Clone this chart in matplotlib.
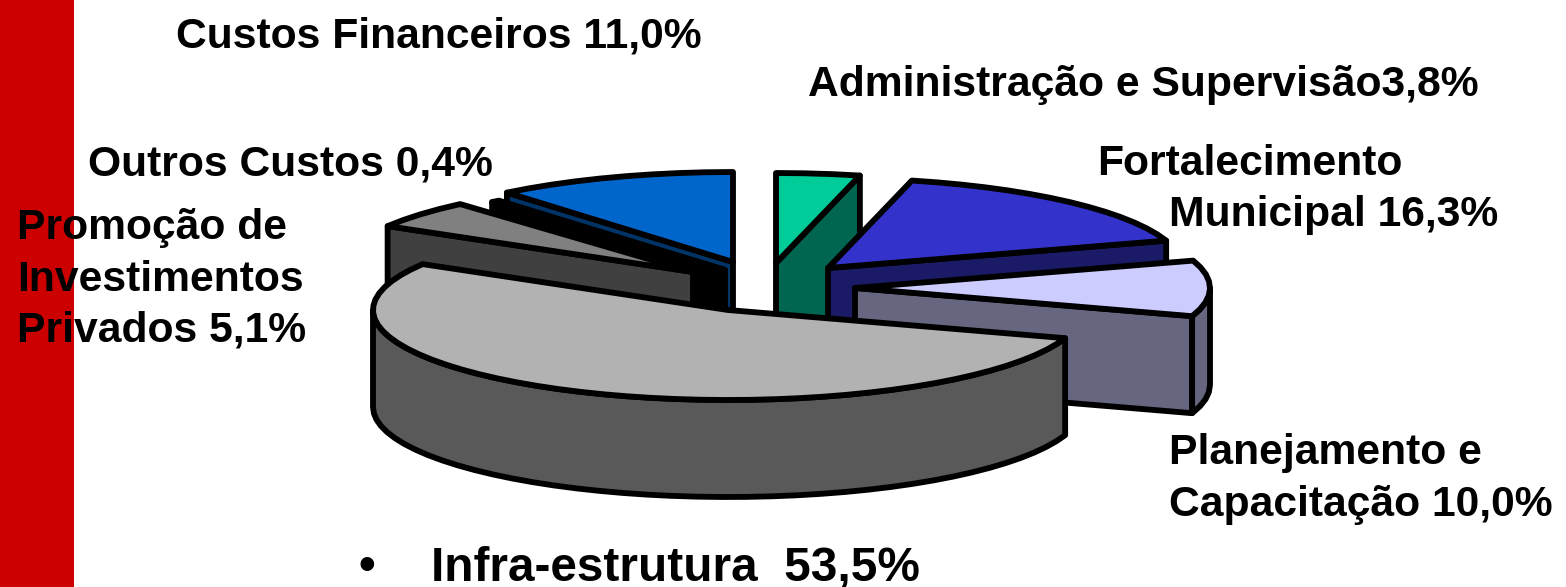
import numpy as np
import matplotlib
matplotlib.use("agg")
import matplotlib.pyplot as plt
from matplotlib.patches import Polygon, Rectangle

# share of each slice, clockwise from 12 o'clock
names = ["Administração", "Fortalecimento", "Planejamento", "Infra-estrutura",
         "Promoção", "Outros", "Custos"]
shares = [3.8, 16.3, 10.0, 53.5, 5.1, 0.4, 11.0]
top_colors = ["#00cc99", "#3333cc", "#ccccff", "#b2b2b2", "#808080", "#000000", "#0066cc"]
side_colors = ["#006650", "#1a1a66", "#666680", "#595959", "#404040", "#000000", "#003366"]

# where the tip of each exploded slice ends up, in picture pixels
tips = [(776, 263), (828, 268), (855, 288), (728, 310), (693, 272), (725, 270), (733, 262)]
# the green wall runs on behind the big slice
depths = [112., 97., 97., 97., 97., 97., 97.]
draw_order = [6, 5, 4, 0, 1, 2, 3]

rx = 355.
ry = 90.
lw = 4.2


def rim(tip, t):
    t = np.radians(t)
    return np.column_stack((tip[0] + rx * np.sin(t), tip[1] - ry * np.cos(t)))


def arc(start, end):
    # coarse steps, the original outline is not smooth either
    n = max(int((end - start) / 4.), 1)
    return np.linspace(start, end, n + 1)


def draw_slice(ax, i, start, end):
    tip = tips[i]
    drop = np.array([0, depths[i]])
    style = dict(facecolor=side_colors[i], edgecolor="k", linewidth=lw, joinstyle="round")
    # flat cut walls, only the ones turned towards the viewer
    if 180 < start < 360:
        p = np.vstack(([tip], rim(tip, np.array([start]))))
        ax.add_patch(Polygon(np.vstack((p, (p + drop)[::-1])), **style))
    if 0 < end < 180:
        p = np.vstack(([tip], rim(tip, np.array([end]))))
        ax.add_patch(Polygon(np.vstack((p, (p + drop)[::-1])), **style))
    # outer wall, front half only
    a, b = max(start, 90), min(end, 270)
    if a < b:
        p = rim(tip, arc(a, b))
        ax.add_patch(Polygon(np.vstack((p, (p + drop)[::-1])), **style))
    p = np.vstack(([tip], rim(tip, arc(start, end))))
    ax.add_patch(Polygon(p, facecolor=top_colors[i], edgecolor="k", linewidth=lw, joinstyle="round"))


fig = plt.figure(figsize=(15.66, 5.87), dpi=100)
ax = fig.add_axes([0, 0, 1, 1])
ax.set_xlim(0, 1566)
ax.set_ylim(587, 0)
ax.axis("off")

ax.add_patch(Rectangle((0, 0), 74, 587, facecolor="#cc0000", edgecolor="none"))

edges = np.cumsum([0] + shares) / sum(shares) * 360.
for i in draw_order:
    draw_slice(ax, i, edges[i], edges[i + 1])

font = dict(family="Liberation Sans", fontweight="bold", fontsize=30.7, color="k", va="baseline")
ax.text(176, 47, "Custos Financeiros 11,0%", **font)
ax.text(808, 96, "Administração e Supervisão3,8%", **font)
ax.text(88, 176, "Outros Custos 0,4%", **font)
ax.text(1097, 175, "Fortalecimento", **font)
ax.text(1169, 226, "Municipal 16,3%", **font)
ax.text(17, 239, "Promoção de", **font)
ax.text(17, 291, "Investimentos", **font)
ax.text(17, 342, "Privados 5,1%", **font)
ax.text(1169, 464, "Planejamento e", **font)
ax.text(1169, 516, "Capacitação 10,0%", **font)
font["fontsize"] = 34.4
ax.text(358, 580, "•", **font)
ax.text(431, 580, "Infra-estrutura  53,5%", **font)

fig.savefig("out.png", dpi=100)
